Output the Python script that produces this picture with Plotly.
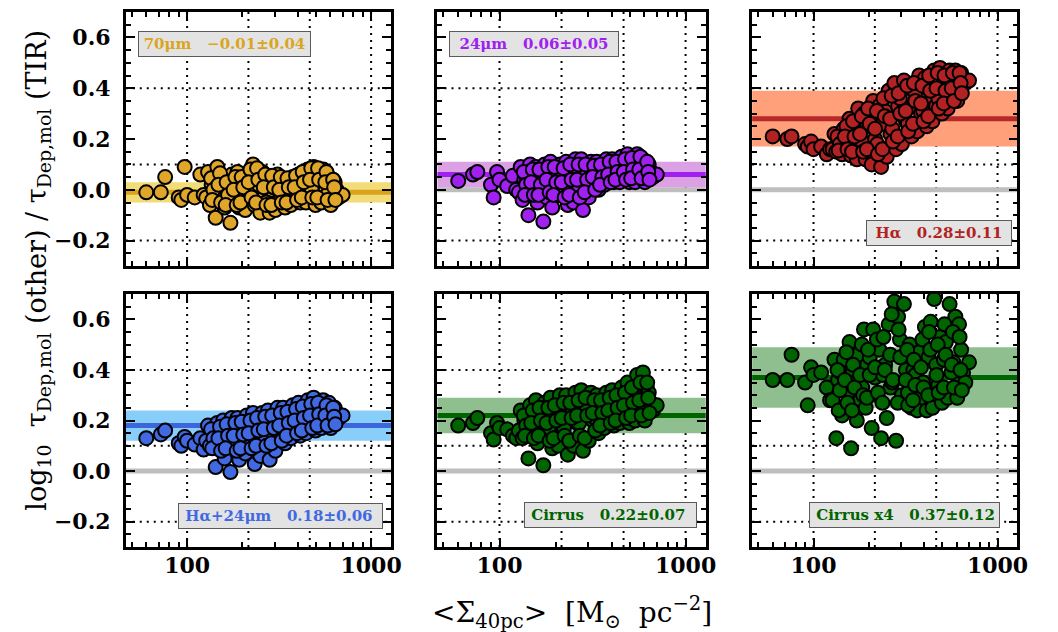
import math
import plotly.graph_objects as go

# ---------------- data ----------------
# shared surface density of the regions, <Sigma_40pc> [Msun pc^-2]
sigma = [60, 72, 76, 90, 93, 97, 100, 110, 118, 123,
         130, 136, 127, 133,
         146, 140, 149, 143,
         157, 163, 153, 160,
         175, 168, 179, 172,
         188, 196, 184, 192,
         211, 202, 216, 207,
         228, 238, 222, 233,
         256, 245, 262, 250,
         275, 288, 268, 281,
         310, 295, 318, 302,
         333, 349, 326, 341,
         375, 358, 384, 366,
         403, 422, 394, 412,
         453, 433, 464, 443,
         487, 511, 476, 499,
         549, 524, 562, 536,
         590, 618, 576, 604,
         634, 650, 668, 700,
         # second group of regions
         135, 139, 137,
         151, 148, 153,
         164, 167, 162,
         183, 179, 186,
         198, 202, 195,
         221, 216, 224,
         240, 244, 237,
         266, 261, 270,
         290, 296, 287,
         323, 317, 327,
         351, 357, 347,
         391, 384, 396,
         425, 431, 420,
         473, 466, 479,
         515, 522, 510,
         572, 564, 580,
         622, 630, 640]

y_70um = [-0.01, -0.01, 0.05, -0.03, -0.04, 0.09, -0.02, -0.03, 0.06, -0.02,
          0.07, 0.02, -0.03, -0.06,
          0.09, 0.04, -0.02, -0.11,
          0.05, 0.00, -0.04, -0.07,
          0.06, 0.02, -0.05, -0.13,
          0.07, 0.03, -0.02, -0.07,
          0.05, 0.00, -0.04, -0.08,
          0.10, 0.06, 0.01, -0.06,
          0.07, 0.02, -0.03, -0.09,
          0.05, 0.00, -0.05, -0.09,
          0.06, 0.01, -0.04, -0.08,
          0.04, 0.00, -0.03, -0.07,
          0.05, 0.01, -0.04, -0.06,
          0.06, 0.02, -0.02, -0.05,
          0.08, 0.03, -0.01, -0.05,
          0.09, 0.05, 0.00, -0.06,
          0.08, 0.04, -0.01, -0.05,
          0.05, 0.02, -0.02, -0.06,
          0.03, 0.00, -0.03, -0.02,
          0.045, 0.00, -0.04,
          0.065, 0.02, -0.05,
          0.03, -0.02, -0.06,
          0.05, 0.00, -0.06,
          0.05, 0.01, -0.05,
          0.08, 0.03, -0.03,
          0.085, 0.04, -0.05,
          0.06, 0.01, -0.06,
          0.055, 0.01, -0.06,
          0.05, 0.00, -0.05,
          0.045, 0.01, -0.05,
          0.055, 0.01, -0.04,
          0.07, 0.03, -0.03,
          0.085, 0.04, -0.03,
          0.085, 0.04, -0.03,
          0.07, 0.03, -0.04,
          0.04, 0.01, -0.04]

y_24um = [0.035, 0.06, 0.07, 0.02, -0.03, 0.07, 0.04, 0.015, 0.055, 0.00,
          0.09, 0.04, -0.01, -0.04,
          0.10, 0.05, 0.01, -0.10,
          0.09, 0.05, 0.00, -0.05,
          0.10, 0.04, -0.03, -0.125,
          0.11, 0.06, 0.01, -0.07,
          0.10, 0.05, 0.00, -0.02,
          0.11, 0.06, 0.00, -0.06,
          0.12, 0.07, 0.01, -0.05,
          0.12, 0.07, 0.01, -0.08,
          0.11, 0.06, 0.02, -0.03,
          0.11, 0.07, 0.03, 0.00,
          0.12, 0.08, 0.04, 0.02,
          0.12, 0.08, 0.05, 0.03,
          0.13, 0.09, 0.05, 0.03,
          0.14, 0.10, 0.06, 0.03,
          0.14, 0.10, 0.06, 0.03,
          0.12, 0.09, 0.05, 0.03,
          0.10, 0.07, 0.05, 0.06,
          0.07, 0.02, -0.02,
          0.08, 0.03, -0.02,
          0.08, 0.02, -0.02,
          0.09, 0.04, -0.01,
          0.09, 0.03, -0.02,
          0.085, 0.03, -0.03,
          0.10, 0.04, -0.02,
          0.10, 0.04, -0.03,
          0.10, 0.04, -0.01,
          0.095, 0.05, 0.00,
          0.10, 0.05, 0.02,
          0.11, 0.06, 0.03,
          0.11, 0.07, 0.04,
          0.12, 0.07, 0.04,
          0.125, 0.08, 0.045,
          0.13, 0.08, 0.045,
          0.11, 0.07, 0.04]

y_halpha = [0.21, 0.20, 0.21, 0.18, 0.17, 0.19, 0.16, 0.17, 0.14, 0.16,
            0.22, 0.19, 0.16, 0.15,
            0.24, 0.20, 0.17, 0.14,
            0.28, 0.23, 0.18, 0.135,
            0.32, 0.24, 0.17, 0.12,
            0.30, 0.25, 0.19, 0.12,
            0.35, 0.28, 0.20, 0.10,
            0.33, 0.26, 0.18, 0.09,
            0.39, 0.31, 0.22, 0.13,
            0.42, 0.33, 0.24, 0.16,
            0.43, 0.36, 0.27, 0.18,
            0.40, 0.33, 0.26, 0.21,
            0.45, 0.38, 0.30, 0.23,
            0.44, 0.37, 0.31, 0.25,
            0.47, 0.40, 0.33, 0.27,
            0.48, 0.42, 0.36, 0.30,
            0.47, 0.41, 0.37, 0.32,
            0.47, 0.43, 0.39, 0.35,
            0.46, 0.44, 0.42, 0.43,
            0.21, 0.18, 0.155,
            0.25, 0.21, 0.16,
            0.27, 0.21, 0.15,
            0.29, 0.22, 0.15,
            0.32, 0.26, 0.16,
            0.31, 0.24, 0.14,
            0.36, 0.29, 0.16,
            0.37, 0.28, 0.19,
            0.38, 0.30, 0.21,
            0.41, 0.31, 0.23,
            0.42, 0.35, 0.26,
            0.41, 0.34, 0.27,
            0.45, 0.39, 0.29,
            0.46, 0.40, 0.32,
            0.45, 0.39, 0.34,
            0.46, 0.40, 0.35,
            0.46, 0.42, 0.38]

y_ha24 = [0.13, 0.145, 0.16, 0.11, 0.10, 0.135, 0.12, 0.105, 0.13, 0.085,
          0.18, 0.15, 0.12, 0.10,
          0.19, 0.15, 0.11, 0.016,
          0.20, 0.16, 0.12, 0.05,
          0.21, 0.16, 0.10, -0.004,
          0.21, 0.17, 0.12, 0.045,
          0.22, 0.17, 0.12, 0.07,
          0.23, 0.18, 0.12, 0.028,
          0.23, 0.19, 0.14, 0.06,
          0.24, 0.19, 0.13, 0.045,
          0.25, 0.20, 0.15, 0.08,
          0.25, 0.21, 0.16, 0.11,
          0.26, 0.22, 0.17, 0.13,
          0.27, 0.23, 0.19, 0.14,
          0.28, 0.24, 0.19, 0.15,
          0.29, 0.25, 0.20, 0.16,
          0.28, 0.24, 0.20, 0.17,
          0.27, 0.23, 0.20, 0.17,
          0.25, 0.23, 0.21, 0.22,
          0.165, 0.13, 0.09,
          0.175, 0.13, 0.08,
          0.185, 0.14, 0.09,
          0.19, 0.14, 0.08,
          0.195, 0.145, 0.09,
          0.20, 0.15, 0.09,
          0.21, 0.16, 0.10,
          0.215, 0.165, 0.10,
          0.22, 0.17, 0.11,
          0.23, 0.18, 0.12,
          0.235, 0.19, 0.14,
          0.245, 0.20, 0.15,
          0.255, 0.21, 0.16,
          0.265, 0.22, 0.17,
          0.27, 0.225, 0.18,
          0.26, 0.22, 0.18,
          0.25, 0.215, 0.185]

y_cirrus = [0.18, 0.19, 0.21, 0.15, 0.125, 0.19, 0.17, 0.165, 0.14, 0.13,
            0.24, 0.20, 0.16, 0.13,
            0.26, 0.21, 0.16, 0.05,
            0.28, 0.23, 0.17, 0.11,
            0.27, 0.22, 0.15, 0.023,
            0.29, 0.23, 0.17, 0.09,
            0.30, 0.24, 0.18, 0.10,
            0.30, 0.24, 0.17, 0.065,
            0.31, 0.25, 0.19, 0.10,
            0.32, 0.26, 0.19, 0.08,
            0.31, 0.25, 0.20, 0.12,
            0.30, 0.25, 0.21, 0.15,
            0.31, 0.26, 0.22, 0.17,
            0.32, 0.27, 0.23, 0.18,
            0.33, 0.28, 0.24, 0.19,
            0.35, 0.29, 0.24, 0.19,
            0.38, 0.31, 0.25, 0.20,
            0.39, 0.33, 0.26, 0.20,
            0.31, 0.27, 0.24, 0.26,
            0.22, 0.18, 0.14,
            0.24, 0.19, 0.13,
            0.25, 0.20, 0.14,
            0.25, 0.19, 0.12,
            0.26, 0.20, 0.13,
            0.27, 0.21, 0.14,
            0.27, 0.21, 0.12,
            0.28, 0.22, 0.14,
            0.29, 0.22, 0.13,
            0.28, 0.23, 0.16,
            0.28, 0.23, 0.18,
            0.29, 0.24, 0.19,
            0.30, 0.25, 0.20,
            0.31, 0.26, 0.21,
            0.33, 0.27, 0.22,
            0.35, 0.28, 0.22,
            0.35, 0.29, 0.23]

y_cirrus_x4 = [0.36, 0.36, 0.46, 0.35, 0.26, 0.41, 0.38, 0.39, 0.33, 0.28,
               0.44, 0.36, 0.28, 0.13,
               0.44, 0.39, 0.33, 0.22,
               0.51, 0.39, 0.31, 0.09,
               0.46, 0.35, 0.28, 0.20,
               0.56, 0.42, 0.33, 0.25,
               0.56, 0.45, 0.37, 0.17,
               0.48, 0.38, 0.30, 0.13,
               0.58, 0.42, 0.33, 0.21,
               0.67, 0.61, 0.35, 0.12,
               0.66, 0.52, 0.40, 0.30,
               0.50, 0.40, 0.31, 0.25,
               0.47, 0.38, 0.29, 0.24,
               0.57, 0.45, 0.35, 0.24,
               0.68, 0.59, 0.42, 0.25,
               0.53, 0.44, 0.34, 0.27,
               0.66, 0.51, 0.39, 0.29,
               0.61, 0.58, 0.43, 0.29,
               0.48, 0.39, 0.35, 0.43,
               0.40, 0.32, 0.24,
               0.47, 0.36, 0.27,
               0.42, 0.33, 0.24,
               0.50, 0.38, 0.30,
               0.48, 0.38, 0.29,
               0.52, 0.41, 0.31,
               0.53, 0.40, 0.27,
               0.62, 0.46, 0.36,
               0.56, 0.45, 0.27,
               0.48, 0.36, 0.26,
               0.44, 0.34, 0.28,
               0.52, 0.41, 0.33,
               0.55, 0.48, 0.30,
               0.50, 0.38, 0.31,
               0.58, 0.46, 0.33,
               0.55, 0.42, 0.33,
               0.53, 0.40, 0.32]

tracer_labels = ["70μm", "24μm", "Hα", "Hα+24μm", "Cirrus", "Cirrus x4"]
means = [-0.01, 0.06, 0.28, 0.18, 0.22, 0.37]
stds = [0.04, 0.05, 0.11, 0.06, 0.07, 0.12]

x_tick_vals = [100, 1000]
x_tick_text = ["100", "1000"]
x_minor_vals = [50, 60, 70, 80, 90, 200, 300, 400, 500, 600, 700, 800, 900]
y_tick_vals = [-0.2, 0.0, 0.2, 0.4, 0.6]
x_grid_vals = [100, 215.443, 464.159, 1000]
y_grid_vals = [-0.2, 0.1, 0.4]

series = [y_70um, y_24um, y_halpha, y_ha24, y_cirrus, y_cirrus_x4]

# ---------------- styles ----------------
W, H = 1058, 632
col_px = [(119, 387), (434, 705), (752, 1020)]
row_px = [(4, 258), (286, 539)]
point_colors = ["#DFA62A", "#A020F0", "#B22222", "#4169E1", "#006400", "#006400"]
band_colors = ["#F2DC78", "#DCA0E4", "#FFA07A", "#87CEFA", "#8FBF8F", "#8FBF8F"]
line_colors = ["#D9A31E", "#A020F0", "#B8282A", "#3D66DA", "#006400", "#006400"]
text_colors = ["#DAA520", "#A020F0", "#B22222", "#4169E1", "#006400", "#006400"]
box_x = [0.045, 0.044, 0.429, 0.198, 0.321, 0.213]
box_top = [0.925, 0.925, 0.181, 0.174, 0.178, 0.178]
box_w = [173, 170, 146, 205, 173, 191]
box_align = ["center", "center", "center", "left", "left", "left"]

serif = "DejaVu Serif"
tickfont = dict(family=serif, size=22, color="black", weight="bold")

fig = go.Figure()
shapes = []
annotations = []
layout = dict(width=W, height=H, margin=dict(l=0, r=0, t=0, b=0),
              paper_bgcolor="white", plot_bgcolor="white", showlegend=False)

NB = "\u00a0"

for i in range(6):
    r, c = divmod(i, 3)
    n = "" if i == 0 else str(i + 1)
    xa, ya = "x" + n, "y" + n
    x0, x1 = col_px[c]
    y0, y1 = row_px[r]
    layout["xaxis" + n] = dict(
        domain=[x0 / W, x1 / W], type="log",
        range=[math.log10(46.416), 3.108], anchor=ya,
        showgrid=False, zeroline=False, showline=True, linecolor="black",
        linewidth=2.5, mirror="ticks", ticks="inside", ticklen=9, tickwidth=2,
        tickcolor="black", tickvals=x_tick_vals, ticktext=x_tick_text,
        showticklabels=(r == 1), tickfont=tickfont, ticklabelstandoff=-3,
        minor=dict(ticks="inside", ticklen=5, tickwidth=1.5, tickcolor="black",
                   tickmode="array", tickvals=x_minor_vals, showgrid=False),
    )
    layout["yaxis" + n] = dict(
        domain=[1 - y1 / H, 1 - y0 / H], range=[-0.3, 0.7], anchor=xa,
        showgrid=False, zeroline=False, showline=True, linecolor="black",
        linewidth=2.5, mirror="ticks", ticks="inside", ticklen=9, tickwidth=2,
        tickcolor="black", tickvals=y_tick_vals, tickformat=".1f",
        showticklabels=(c == 0), tickfont=tickfont, ticklabelstandoff=8,
        minor=dict(ticks="inside", ticklen=5, tickwidth=1.5, tickcolor="black",
                   tickmode="linear", tick0=0, dtick=0.05, showgrid=False),
    )
    # dotted grid
    for gx in x_grid_vals:
        shapes.append(dict(type="line", xref=xa, yref=ya + " domain", x0=gx, x1=gx,
                           y0=0, y1=1, layer="below",
                           line=dict(color="black", width=2, dash="2px,5px")))
    for gy in y_grid_vals:
        shapes.append(dict(type="line", xref=xa + " domain", yref=ya, x0=0, x1=1,
                           y0=gy, y1=gy, layer="below",
                           line=dict(color="black", width=2, dash="2px,5px")))
    # zero reference line
    shapes.append(dict(type="line", xref=xa + " domain", yref=ya, x0=0, x1=1,
                       y0=0, y1=0, layer="below",
                       line=dict(color="#BEBEBE", width=5)))
    # scatter band and mean
    m, s = means[i], stds[i]
    shapes.append(dict(type="rect", xref=xa + " domain", yref=ya, x0=0, x1=1,
                       y0=m - s, y1=m + s, layer="below",
                       fillcolor=band_colors[i], line=dict(width=0)))
    shapes.append(dict(type="line", xref=xa + " domain", yref=ya, x0=0, x1=1,
                       y0=m, y1=m, layer="below",
                       line=dict(color=line_colors[i], width=5)))

    fig.add_trace(go.Scatter(
        x=sigma, y=series[i], xaxis=xa, yaxis=ya, mode="markers",
        marker=dict(size=14, color=point_colors[i],
                    line=dict(color="black", width=2)),
        hoverinfo="skip"))

    txt = (f"{tracer_labels[i]}{NB*3}{m:.2f}±{s:.2f}").replace("-", "−")
    if box_align[i] == "left":
        txt = NB + txt
    annotations.append(dict(
        xref=xa + " domain", yref=ya + " domain", x=box_x[i], y=box_top[i],
        xanchor="left", yanchor="top", text=txt, showarrow=False,
        width=box_w[i] - 4, height=22, align=box_align[i], valign="middle",
        bgcolor="#E3E3E3", bordercolor="#5A5A5A", borderwidth=1, borderpad=1,
        font=dict(family=serif, size=15, color=text_colors[i], weight="bold")))

# axis titles
annotations.append(dict(
    xref="paper", yref="paper", x=30 / W, y=1 - 262 / H, xanchor="center",
    yanchor="middle", textangle=-90, showarrow=False,
    text=f"log<sub>10</sub>{NB}{NB}τ<sub>Dep,mol</sub>{NB}(other){NB}/{NB}τ<sub>Dep,mol</sub>{NB}(TIR)",
    font=dict(family=serif, size=27, color="black")))
annotations.append(dict(
    xref="paper", yref="paper", x=570 / W, y=1 - 604 / H, xanchor="center",
    yanchor="middle", showarrow=False,
    text=f"&lt;Σ<sub>40pc</sub>&gt;{NB}{NB}[M<sub>⊙</sub>{NB}{NB}pc<sup>−2</sup>]",
    font=dict(family=serif, size=28, color="black")))

layout["shapes"] = shapes
layout["annotations"] = annotations
fig.update_layout(**layout)
fig.write_html("out.html")
